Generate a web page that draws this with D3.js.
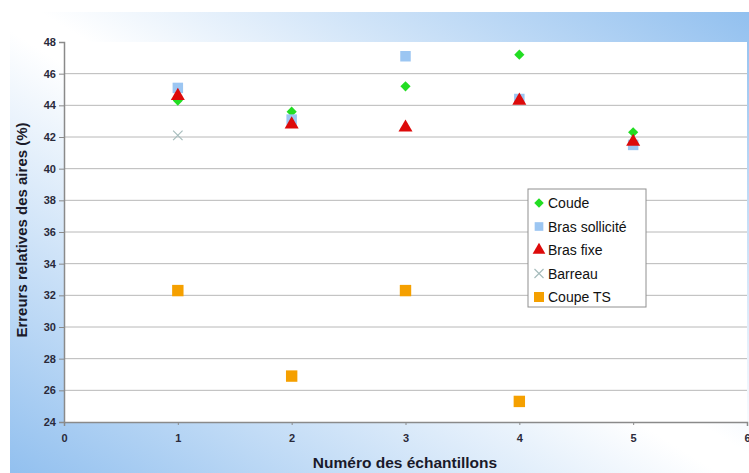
<!DOCTYPE html>
<html><head><meta charset="utf-8">
<script src="https://cdn.jsdelivr.net/npm/d3@7/dist/d3.min.js"></script>
<style>body{margin:0;background:#fff;}svg{display:block;}</style>
</head><body>
<svg id="c" width="749" height="473"></svg>
<script>
const samples = [1, 2, 3, 4, 5];
const coude = [44.3, 43.6, 45.2, 47.2, 42.3];
const brasSollicite = [45.1, 43.1, 47.1, 44.4, 41.5];
const brasFixe = [44.6, 42.8, 42.6, 44.3, 41.7];
const barreau = [42.1];
const coupeTS = [32.3, 26.9, 32.3, 25.3];
const xTicks = [0, 1, 2, 3, 4, 5, 6];
const yTicks = [24, 26, 28, 30, 32, 34, 36, 38, 40, 42, 44, 46, 48];
const seriesNames = ["Coude", "Bras sollicité", "Bras fixe", "Barreau", "Coupe TS"];

const svg = d3.select("#c");
const defs = svg.append("defs");
const g1 = defs.append("linearGradient").attr("id", "bg")
  .attr("x1", "0%").attr("y1", "100%").attr("x2", "100%").attr("y2", "0%");
g1.append("stop").attr("offset", "0%").attr("stop-color", "#92c0ef");
g1.append("stop").attr("offset", "48%").attr("stop-color", "#ffffff");
g1.append("stop").attr("offset", "52%").attr("stop-color", "#ffffff");
g1.append("stop").attr("offset", "100%").attr("stop-color", "#92c0ef");

svg.append("rect").attr("x", 10).attr("y", 12).attr("width", 739).attr("height", 461).attr("fill", "url(#bg)");

const m = {l: 64, r: 747, t: 42, b: 422};
const x = d3.scaleLinear().domain([0, 6]).range([m.l, m.r]);
const y = d3.scaleLinear().domain([24, 48]).range([m.b, m.t]);

svg.append("rect").attr("x", m.l).attr("y", m.t).attr("width", m.r - m.l).attr("height", m.b - m.t).attr("fill", "#fff");

// gridlines
svg.append("g").selectAll("line").data(yTicks.filter(d => d > 24 && d < 48)).join("line")
  .attr("x1", m.l).attr("x2", m.r).attr("y1", d => y(d)).attr("y2", d => y(d))
  .attr("stroke", "#b8b8b8").attr("stroke-width", 1);

const yAxis = svg.append("g").attr("transform", `translate(${m.l},0)`)
  .call(d3.axisLeft(y).tickValues(yTicks).tickFormat(d3.format("d")).tickSize(5).tickPadding(3));
const xAxis = svg.append("g").attr("transform", `translate(0,${m.b})`)
  .call(d3.axisBottom(x).tickValues(xTicks).tickFormat(d3.format("d")).tickSize(4).tickPadding(8));
[yAxis, xAxis].forEach(a => {
  a.select(".domain").attr("stroke", "#8a8a8a").attr("stroke-width", 1.5);
  a.selectAll(".tick line").attr("stroke", "#8a8a8a");
  a.selectAll("text").attr("font-family", "Liberation Sans, Arial, sans-serif")
    .attr("font-size", 11).attr("font-weight", "bold").attr("fill", "#2a2a3a");
});
xAxis.selectAll(".tick line").attr("y2", 3);

const diamondPath = d3.symbol().type(d3.symbolSquare).size(52);
const styles = [
  {data: barreau, path: d3.symbol().type(d3.symbolX).size(60), fill: "none", stroke: "#a7bdbd", rot: 0},
  {data: coude, path: diamondPath, fill: "#22dd22", stroke: "none", rot: 45},
  {data: brasSollicite, path: d3.symbol().type(d3.symbolSquare).size(110), fill: "#9cc6f2", stroke: "none", rot: 0},
  {data: brasFixe, path: d3.symbol().type(d3.symbolTriangle).size(85), fill: "#dd0a0a", stroke: "none", rot: 0},
  {data: coupeTS, path: d3.symbol().type(d3.symbolSquare).size(130), fill: "#f5a000", stroke: "none", rot: 0}
];
styles.forEach(s => {
  svg.append("g").selectAll("path").data(s.data).join("path")
    .attr("d", s.path)
    .attr("transform", (d, i) => `translate(${x(samples[i])},${y(d)}) rotate(${s.rot})`)
    .attr("fill", s.fill).attr("stroke", s.stroke).attr("stroke-width", 1.2);
});

// axis titles
svg.append("text").attr("x", 405).attr("y", 468).attr("text-anchor", "middle")
  .attr("font-family", "Liberation Sans, Arial, sans-serif").attr("font-size", 15.5).attr("font-weight", "bold")
  .attr("fill", "#1a1a2a").text("Numéro des échantillons");
svg.append("text").attr("transform", "translate(27,230) rotate(-90)").attr("text-anchor", "middle")
  .attr("font-family", "Liberation Sans, Arial, sans-serif").attr("font-size", 15).attr("font-weight", "bold")
  .attr("fill", "#1a1a2a").text("Erreurs relatives des aires (%)");

// legend
const lg = svg.append("g").attr("transform", "translate(528,189)");
lg.append("rect").attr("width", 118).attr("height", 118).attr("fill", "#fff").attr("stroke", "#909090");
const legSyms = [
  {path: d3.symbol().type(d3.symbolSquare).size(45), fill: "#22dd22", stroke: "none", rot: 45},
  {path: d3.symbol().type(d3.symbolSquare).size(75), fill: "#9cc6f2", stroke: "none", rot: 0},
  {path: d3.symbol().type(d3.symbolTriangle).size(70), fill: "#dd0a0a", stroke: "none", rot: 0},
  {path: d3.symbol().type(d3.symbolX).size(55), fill: "none", stroke: "#a7bdbd", rot: 0},
  {path: d3.symbol().type(d3.symbolSquare).size(100), fill: "#f5a000", stroke: "none", rot: 0}
];
seriesNames.forEach((n, i) => {
  const row = lg.append("g").attr("transform", `translate(0,${14 + i * 23.5})`);
  row.append("path").attr("d", legSyms[i].path).attr("transform", `translate(11,0) rotate(${legSyms[i].rot})`)
    .attr("fill", legSyms[i].fill).attr("stroke", legSyms[i].stroke).attr("stroke-width", 1.2);
  row.append("text").attr("x", 20).attr("y", 5).attr("font-family", "Liberation Sans, Arial, sans-serif")
    .attr("font-size", 14).attr("fill", "#111").text(n);
});
</script>
</body></html>
